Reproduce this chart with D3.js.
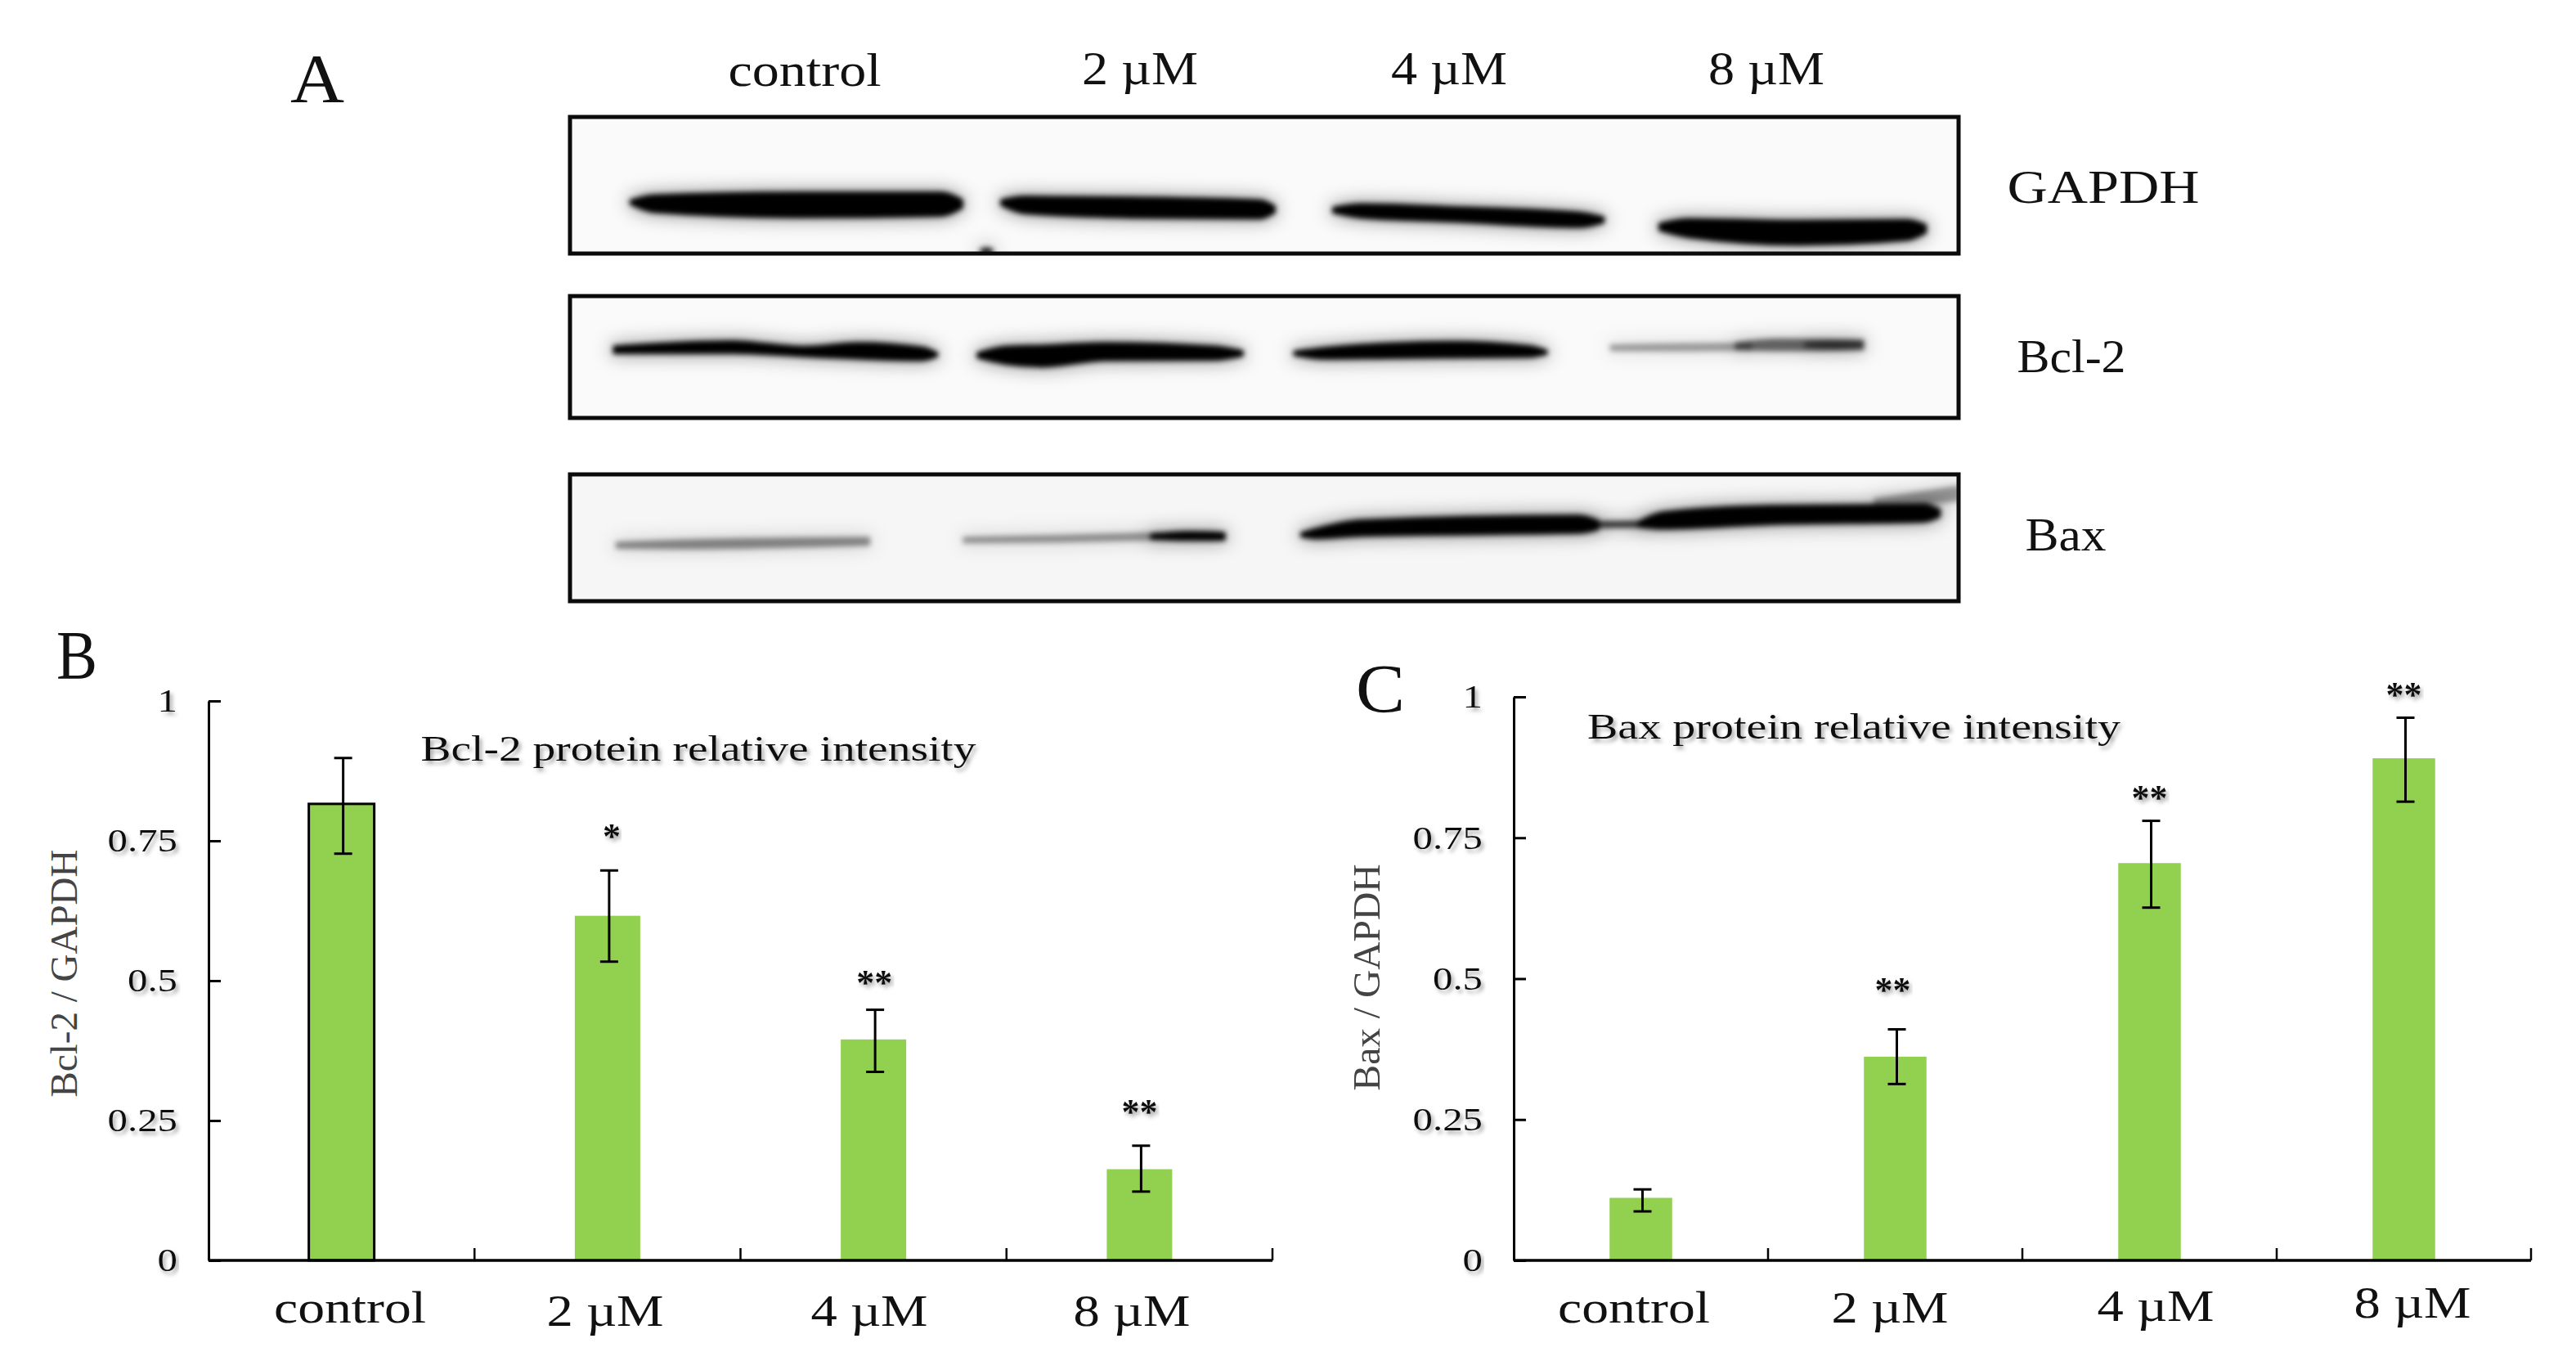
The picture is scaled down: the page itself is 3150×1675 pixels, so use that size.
<!DOCTYPE html>
<html>
<head>
<meta charset="utf-8">
<script src="https://cdnjs.cloudflare.com/ajax/libs/d3/7.8.5/d3.min.js"></script>
<style>
  html, body { margin: 0; padding: 0; background: #fff; }
  text { font-family: "Liberation Serif", serif; fill: #111; }
</style>
</head>
<body>
<div id="chart"></div>
<script>
const doses = ['control', '2 µM', '4 µM', '8 µM'];
const yTicks = [0, 0.25, 0.5, 0.75, 1];
const yTickLabels = ['0', '0.25', '0.5', '0.75', '1'];

// panel B
const bcl2Values = [0.816, 0.616, 0.395, 0.163];
const bcl2Upper = [0.898, 0.697, 0.448, 0.205];
const bcl2Lower = [0.727, 0.534, 0.337, 0.123];
const bcl2Stars = ['', '*', '**', '**'];
const bcl2StarLevel = [null, 0.766, 0.504, 0.274];

// panel C
const baxValues = [0.111, 0.3615, 0.705, 0.891];
const baxUpper = [0.126, 0.41, 0.78, 0.963];
const baxLower = [0.087, 0.313, 0.626, 0.814];
const baxStars = ['', '**', '**', '**'];
const baxStarLevel = [null, 0.488, 0.829, 1.012];

// blots: each band is a density and a profile of [% across, % down, % thick]
const gapdhBands = [
  { density: 1, profile: [[4.4, 62.5, 2], [6, 63.5, 11], [16.2, 64.4, 17], [26.7, 63.8, 16], [28.2, 63.6, 5]] },
  { density: 1, profile: [[31.1, 62.7, 3], [32.7, 64.4, 11], [40.5, 66.3, 13.7], [49.7, 67.7, 12.3], [50.7, 67.7, 4]] },
  { density: 1, profile: [[55, 68.2, 3], [57, 68.8, 8.8], [63.5, 71.2, 9.6], [72.7, 75.3, 9.6], [74.4, 75.3, 3]] },
  { density: 1, profile: [[78.5, 80.5, 4], [80.6, 81.4, 12.3], [88.5, 84.7, 16.4], [96.3, 82.7, 13.7], [97.6, 81.9, 5]] },
  { density: 0.9, profile: [[29.6, 98, 0.5], [30, 98, 3], [30.4, 98, 0.5]] }
];
const bcl2Bands = [
  { density: 1, profile: [[3.2, 44, 4.6], [11.6, 41.8, 8.6], [16.9, 45.5, 6.8], [20.8, 44.9, 11.7], [25.4, 47.4, 9.2], [26.4, 48, 2]] },
  { density: 1, profile: [[29.4, 48.6, 3], [31.4, 48.6, 12.9], [34, 49.2, 16], [38.6, 45.5, 12.9], [46.4, 46.8, 9.8], [48.4, 47, 3]] },
  { density: 1, profile: [[52.2, 47, 2], [54.3, 47, 7.7], [58.9, 44.9, 10.8], [63.5, 44, 11.7], [69.1, 45.5, 7.7], [70.3, 46, 2]] },
  { density: 0.34, profile: [[75, 42.5, 3], [80, 42, 4.3], [85, 41.5, 4]] },
  { density: 0.55, profile: [[84, 41, 4], [87, 40, 8], [93.1, 40, 6.5]] },
  { density: 0.5, profile: [[89, 40, 2], [91, 40, 5], [93, 40, 3]] }
];
const baxBands = [
  { density: 0.42, profile: [[3.4, 55.9, 3], [8, 55.2, 5.3], [21.5, 52.7, 4.5]] },
  { density: 0.38, profile: [[28.4, 51.8, 2.5], [35, 50.8, 3.6], [42.5, 48.8, 4]] },
  { density: 1, profile: [[41.9, 49, 2.5], [44.5, 48.6, 5.5], [47.1, 48.8, 4.5]] },
  { density: 1, profile: [[52.7, 47.6, 2], [53.7, 46.7, 6.5], [57, 42.3, 11.2], [72.7, 39.3, 12.4], [74, 39.9, 6]] },
  { density: 0.75, profile: [[73.5, 39.6, 3], [77.5, 39.3, 3]] },
  { density: 1, profile: [[77, 39.3, 3], [78.7, 36.4, 11.8], [86.5, 32, 13.3], [97.5, 30.5, 12.4], [98.6, 30.5, 5]] },
  { density: 0.35, profile: [[94, 22, 4], [97, 19, 8], [100, 15, 10]] }
];
const blotLabels = ['GAPDH', 'Bcl-2', 'Bax'];

const svg = d3.select('#chart').append('svg')
  .attr('width', 3150)
  .attr('height', 1675)
  .style('display', 'block');

const defs = svg.append('defs');
const blur = (id, sd) => defs.append('filter').attr('id', id)
  .attr('x', '-30%').attr('y', '-100%').attr('width', '160%').attr('height', '300%')
  .append('feGaussianBlur').attr('stdDeviation', sd);
blur('core', 3.2);
blur('haze', 11);

const shadow = defs.append('filter').attr('id', 'soft')
  .attr('x', '-5%').attr('y', '-30%').attr('width', '110%').attr('height', '170%');
shadow.append('feDropShadow')
  .attr('dx', 3).attr('dy', 4).attr('stdDeviation', 2.5)
  .attr('flood-color', '#888').attr('flood-opacity', 0.75);

// Liberation is narrower than the figure's serif, so stretch to the measured width
const label = (x, y, str, size, width, opts = {}) => {
  const t = svg.append('text')
    .attr('x', x)
    .attr('y', y)
    .attr('text-anchor', 'middle')
    .attr('font-size', size)
    .attr('textLength', width)
    .attr('lengthAdjust', 'spacingAndGlyphs')
    .text(str);
  if (opts.fill) t.style('fill', opts.fill);
  if (opts.soft) t.attr('filter', 'url(#soft)');
  return t;
};

// ---- panel A ----
label(388, 125, 'A', 84, 66);
const headX = [984, 1394, 1772, 2160];
const headW = [187, 142, 142, 142];
doses.forEach((d, i) => label(headX[i], i ? 103 : 105, d, 56, headW[i]));

const blotX = d3.scaleLinear().domain([0, 100]).range([697, 2395]);
const blots = [
  { bands: gapdhBands, top: 143, bottom: 310, bg: '#fafafa' },
  { bands: bcl2Bands, top: 362, bottom: 511, bg: '#fafafa' },
  { bands: baxBands, top: 580, bottom: 735, bg: '#f6f6f6' }
];
const labelX = [2572, 2533, 2526];
const labelY = [248, 455, 673];
const labelW = [235, 133, 99];

blots.forEach((b, i) => {
  const blotY = d3.scaleLinear().domain([0, 100]).range([b.top, b.bottom]);
  const area = d3.area()
    .x(p => blotX(p[0]))
    .y0(p => blotY(p[1] - p[2] / 2))
    .y1(p => blotY(p[1] + p[2] / 2))
    .curve(d3.curveMonotoneX);
  const clipId = 'clip' + i;
  defs.append('clipPath').attr('id', clipId).append('rect')
    .attr('x', blotX(0)).attr('y', b.top)
    .attr('width', blotX(100) - blotX(0)).attr('height', b.bottom - b.top);

  const g = svg.append('g').attr('clip-path', `url(#${clipId})`);
  g.append('rect')
    .attr('x', blotX(0)).attr('y', b.top)
    .attr('width', blotX(100) - blotX(0)).attr('height', b.bottom - b.top)
    .attr('fill', b.bg);
  g.append('g').attr('filter', 'url(#haze)').selectAll('path')
    .data(b.bands).enter().append('path')
    .attr('d', d => area(d.profile))
    .attr('fill', '#000')
    .attr('stroke', '#000')
    .attr('stroke-width', 8)
    .attr('opacity', d => d.density * 0.4);
  g.append('g').attr('filter', 'url(#core)').selectAll('path')
    .data(b.bands).enter().append('path')
    .attr('d', d => area(d.profile))
    .attr('fill', '#000')
    .attr('stroke', '#000')
    .attr('stroke-width', 4)
    .attr('stroke-linejoin', 'round')
    .attr('opacity', d => d.density);

  svg.append('rect')
    .attr('x', blotX(0)).attr('y', b.top)
    .attr('width', blotX(100) - blotX(0)).attr('height', b.bottom - b.top)
    .attr('fill', 'none')
    .attr('stroke', '#0b0b0b')
    .attr('stroke-width', 5);

  label(labelX[i], labelY[i], blotLabels[i], 56, labelW[i]);
});

// ---- bar panels ----
const drawPanel = (p) => {
  const x = d3.scaleBand()
    .domain(doses)
    .range([p.left, p.right])
    .paddingInner(0.754)
    .paddingOuter(0.377);
  const y = d3.scaleLinear().domain([0, 1]).range([p.bottom, p.top]);
  const step = x.step();
  const mid = i => x(doses[i]) + x.bandwidth() / 2;

  const g = svg.append('g');

  g.selectAll('.bar')
    .data(p.values)
    .enter()
    .append('rect')
    .attr('class', 'bar')
    .attr('x', (d, i) => x(doses[i]))
    .attr('y', d => y(d))
    .attr('width', x.bandwidth())
    .attr('height', d => y(0) - y(d))
    .attr('fill', '#92d050')
    .attr('stroke', (d, i) => (i === 0 && p.outlineFirst ? '#000' : 'none'))
    .attr('stroke-width', 3);

  const errs = g.selectAll('.err').data(p.values).enter().append('g').attr('class', 'err')
    .attr('stroke', '#000').attr('stroke-width', 3);
  errs.append('line')
    .attr('x1', (d, i) => mid(i) + 2).attr('x2', (d, i) => mid(i) + 2)
    .attr('y1', (d, i) => y(p.upper[i])).attr('y2', (d, i) => y(p.lower[i]));
  errs.append('line')
    .attr('x1', (d, i) => mid(i) - 9).attr('x2', (d, i) => mid(i) + 13)
    .attr('y1', (d, i) => y(p.upper[i])).attr('y2', (d, i) => y(p.upper[i]));
  errs.append('line')
    .attr('x1', (d, i) => mid(i) - 9).attr('x2', (d, i) => mid(i) + 13)
    .attr('y1', (d, i) => y(p.lower[i])).attr('y2', (d, i) => y(p.lower[i]));

  const yAxis = d3.axisLeft(y)
    .tickValues(yTicks)
    .tickFormat((d, i) => yTickLabels[i])
    .tickSizeInner(-15)
    .tickSizeOuter(0)
    .tickPadding(38);
  const yg = g.append('g').attr('transform', `translate(${p.left},0)`).call(yAxis);
  yg.selectAll('line, path').attr('stroke', '#000').attr('stroke-width', 3);
  yg.selectAll('text')
    .attr('font-size', 40)
    .attr('font-family', '"Liberation Serif", serif')
    .attr('filter', 'url(#soft)')
    .each(function () {
      d3.select(this)
        .attr('textLength', this.getComputedTextLength() * 1.22)
        .attr('lengthAdjust', 'spacingAndGlyphs');
    });

  g.append('line')
    .attr('x1', p.left).attr('x2', p.right)
    .attr('y1', p.bottom).attr('y2', p.bottom)
    .attr('stroke', '#000').attr('stroke-width', 3.5);
  g.selectAll('.xtick')
    .data(doses)
    .enter()
    .append('line')
    .attr('class', 'xtick')
    .attr('x1', (d, i) => p.left + step * (i + 1))
    .attr('x2', (d, i) => p.left + step * (i + 1))
    .attr('y1', p.bottom)
    .attr('y2', p.bottom - 15)
    .attr('stroke', '#000')
    .attr('stroke-width', 2.5);

  doses.forEach((d, i) => {
    label(p.labelX[i], p.labelY[i], d, 55, i ? 143 : 186);
    if (p.stars[i]) {
      svg.append('text')
        .attr('x', mid(i) + (p.starShift ? p.starShift[i] : 0))
        .attr('y', y(p.starLevel[i]) + 20)
        .attr('text-anchor', 'middle')
        .attr('font-size', 44)
        .attr('font-weight', 'bold')
        .attr('filter', 'url(#soft)')
        .text(p.stars[i]);
    }
  });

  label(p.titleX, p.titleY, p.title, 45, p.titleW, { soft: true });
  svg.append('text')
    .attr('transform', `translate(${p.yTitleX},${p.yTitleY}) rotate(-90)`)
    .attr('text-anchor', 'middle')
    .attr('font-size', 47)
    .attr('textLength', p.yTitleW)
    .attr('lengthAdjust', 'spacingAndGlyphs')
    .style('fill', '#444')
    .text(p.yTitle);
  label(p.letterX, p.letterY, p.letter, 84, p.letterW);
};

drawPanel({
  left: 255, right: 1556, top: 857, bottom: 1541,
  values: bcl2Values, upper: bcl2Upper, lower: bcl2Lower,
  stars: bcl2Stars, starLevel: bcl2StarLevel, starShift: [0, 5, 1, 0],
  outlineFirst: true,
  labelX: [428, 740, 1063, 1384], labelY: [1617, 1621, 1621, 1621],
  title: 'Bcl-2 protein relative intensity', titleX: 854, titleY: 930, titleW: 679,
  yTitle: 'Bcl-2 / GAPDH', yTitleX: 94, yTitleY: 1190, yTitleW: 303,
  letter: 'B', letterX: 94, letterY: 830, letterW: 50
});

drawPanel({
  left: 1851, right: 3095, top: 852, bottom: 1541,
  values: baxValues, upper: baxUpper, lower: baxLower,
  stars: baxStars, starLevel: baxStarLevel, starShift: [0, -3, 0, 0],
  outlineFirst: false,
  labelX: [1998, 2311, 2636, 2950], labelY: [1617, 1617, 1615, 1611],
  title: 'Bax protein relative intensity', titleX: 2267, titleY: 903, titleW: 652,
  yTitle: 'Bax / GAPDH', yTitleX: 1687, yTitleY: 1195, yTitleW: 277,
  letter: 'C', letterX: 1688, letterY: 871, letterW: 60
});
</script>
</body>
</html>
